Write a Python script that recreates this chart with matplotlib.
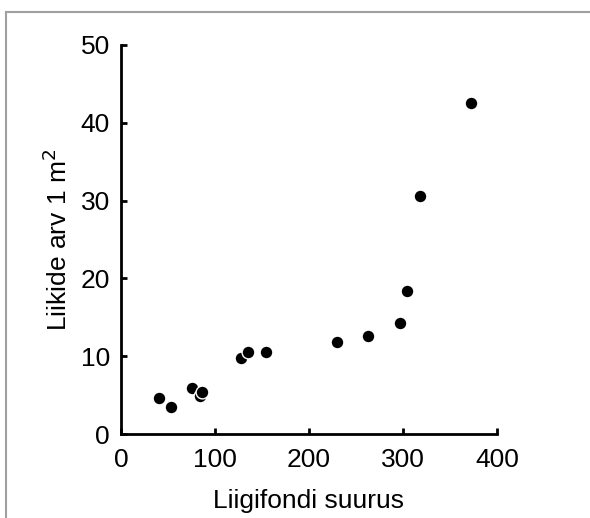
import matplotlib
matplotlib.use("Agg")
import matplotlib.pyplot as plt
from matplotlib.lines import Line2D

plt.rcParams['font.family'] = ['Liberation Sans', 'DejaVu Sans']

pool_size = [40.7, 52.9, 75.9, 84.0, 86.2, 127.3, 135.1, 153.9, 229.8, 263.1, 297.1, 304.3, 317.8, 372.3]
species = [4.59, 3.43, 5.87, 4.9, 5.44, 9.73, 10.5, 10.5, 11.79, 12.6, 14.33, 18.38, 30.55, 42.5]
xticks = [0, 100, 200, 300, 400]
yticks = [0, 10, 20, 30, 40, 50]

fig = plt.figure(figsize=(5.9, 5.18), dpi=100)
ax = fig.add_axes([121/590, 1-434/518, 376/590, 389/518])
ax.scatter(pool_size, species, s=85, c='black', edgecolors='white', linewidths=1.0, zorder=3, clip_on=False)
ax.set_xlim(0, 400)
ax.set_ylim(0, 50)
ax.set_xticks(xticks)
ax.set_yticks(yticks)
for s in ['top', 'right']:
    ax.spines[s].set_visible(False)
for s in ['left', 'bottom']:
    ax.spines[s].set_linewidth(2)
ax.tick_params(direction='in', length=4, width=2, labelsize=19)
ax.tick_params(axis='x', pad=10)
ax.tick_params(axis='y', pad=8)
ax.set_xlabel('Liigifondi suurus', fontsize=19, labelpad=12)
ax.set_ylabel('Liikide arv 1 m$^2$', fontsize=19, labelpad=6)

fig.add_artist(Line2D([6/590, 6/590], [0, 1-12/518], transform=fig.transFigure, color='#a0a0a0', lw=1.5))
fig.add_artist(Line2D([6/590, 1], [1-12/518, 1-12/518], transform=fig.transFigure, color='#a0a0a0', lw=1.5))

fig.savefig('out.png', dpi=100)
